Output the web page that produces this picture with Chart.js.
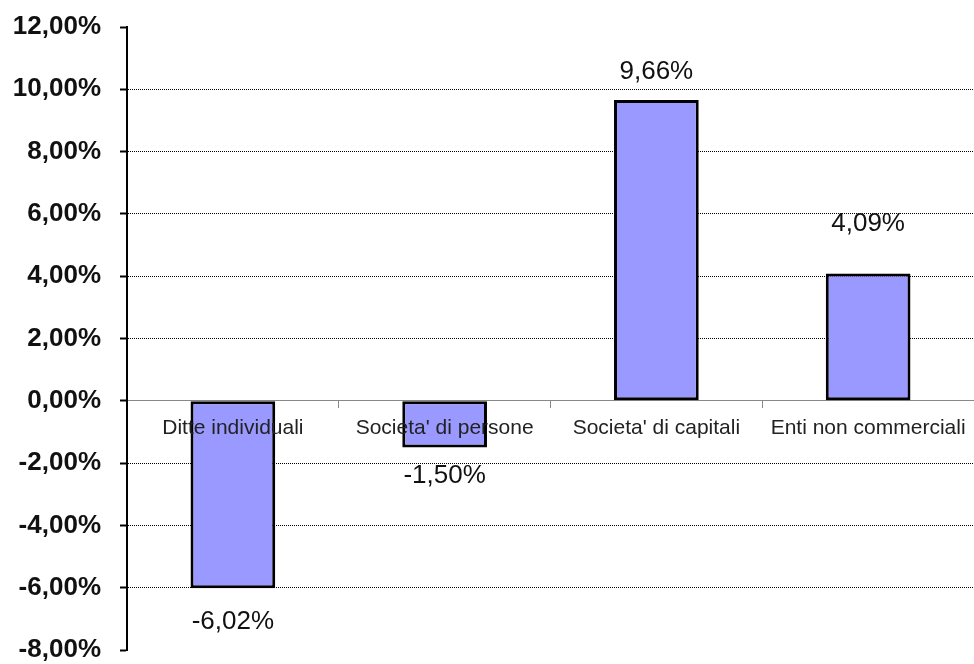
<!DOCTYPE html>
<html>
<head>
<meta charset="utf-8">
<script src="https://cdn.jsdelivr.net/npm/chart.js@4.4.1/dist/chart.umd.min.js"></script>
<style>
  html, body { margin: 0; padding: 0; background: #fff; }
  canvas { display: block; }
</style>
</head>
<body>
<canvas id="variazioni" width="974" height="664"></canvas>
<script>
const categories = ['Ditte individuali', "Societa' di persone", "Societa' di capitali", 'Enti non commerciali'];
const variazioni = [-6.02, -1.50, 9.66, 4.09];
const yMin = -8;
const yMax = 12;
const yStep = 2;

function fmtPct(v) {
  return v.toFixed(2).replace('.', ',') + '%';
}

// value labels above / below each bar
const valueLabels = {
  id: 'valueLabels',
  afterDatasetsDraw(chart, args, opts) {
    const ctx = chart.ctx;
    const meta = chart.getDatasetMeta(0);
    ctx.save();
    ctx.font = opts.font;
    ctx.fillStyle = opts.color;
    ctx.textAlign = 'center';
    ctx.textBaseline = 'middle';
    meta.data.forEach((bar, i) => {
      const v = chart.data.datasets[0].data[i];
      const gap = opts.gaps[i];
      const y = v >= 0 ? bar.y - gap : bar.y + gap;
      ctx.fillText(fmtPct(v), bar.x, y);
    });
    ctx.restore();
  }
};

const ctx = document.getElementById('variazioni').getContext('2d');
new Chart(ctx, {
  type: 'bar',
  data: {
    labels: categories,
    datasets: [{
      data: variazioni,
      backgroundColor: '#9999FF',
      borderColor: '#000',
      borderWidth: 3,
      borderSkipped: false,
      categoryPercentage: 1,
      barPercentage: 0.4
    }]
  },
  options: {
    responsive: false,
    animation: false,
    devicePixelRatio: 1,
    layout: { padding: { top: 27, bottom: 14, left: 0, right: 0 } },
    plugins: {
      legend: { display: false },
      tooltip: { enabled: false },
      valueLabels: {
        font: '26px "Liberation Sans", Arial, sans-serif',
        color: '#111',
        gaps: [34, 28, 28, 50]
      }
    },
    scales: {
      x: {
        position: { y: 0 },
        offset: true,
        afterFit(scale) { scale.height = 0; },
        grid: {
          offset: true,
          drawOnChartArea: false,
          drawTicks: true,
          tickLength: 7,
          color: '#888',
          tickColor: '#888'
        },
        border: { display: true, color: '#888', width: 1 },
        ticks: {
          z: 1,
          autoSkip: false,
          maxRotation: 0,
          padding: 8,
          color: '#222',
          font: { family: '"Liberation Sans", Arial, sans-serif', size: 21 }
        }
      },
      y: {
        min: yMin,
        max: yMax,
        afterFit(scale) {
          scale.width = 127;
          // tick padding would otherwise push the plot in from top and bottom
          scale.paddingTop = 0;
          scale.paddingBottom = 0;
        },
        grid: {
          drawTicks: true,
          tickLength: 7,
          lineWidth: 1,
          color(c) {
            const v = c.tick && c.tick.value;
            if (v === yMin || v === yMax || v === 0) return 'rgba(0,0,0,0)';
            return '#000';
          },
          tickColor: '#000',
          tickWidth: 2,
          tickBorderDash: []
        },
        border: { display: true, color: '#000', width: 2, dash: [1, 1] },
        ticks: {
          stepSize: yStep,
          padding: 19,
          color: '#111',
          font: { family: '"Liberation Sans", Arial, sans-serif', size: 26, weight: 'bold' },
          callback: (v) => fmtPct(v)
        }
      }
    }
  },
  plugins: [valueLabels]
});
</script>
</body>
</html>
